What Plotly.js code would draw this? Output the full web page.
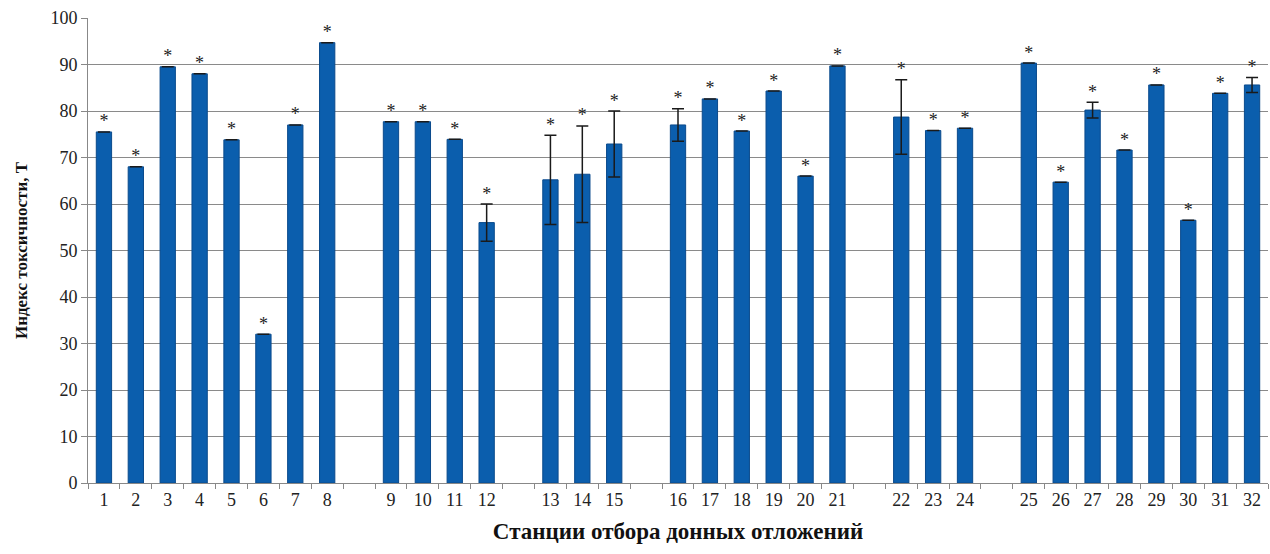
<!DOCTYPE html>
<html>
<head>
<meta charset="utf-8">
<script src="https://cdn.plot.ly/plotly-3.0.1.min.js"></script>
<style>html,body{margin:0;padding:0;background:#fff;}#chart{width:1270px;height:554px;}</style>
</head>
<body>
<div id="chart"></div>
<script>
// Station labels; whitespace entries are the empty slots between station groups
const stations = ['1','2','3','4','5','6','7','8',' ',
  '9','10','11','12','  ',
  '13','14','15','   ',
  '16','17','18','19','20','21','    ',
  '22','23','24','     ',
  '25','26','27','28','29','30','31','32'];
const toxicity = [75.5,68,89.5,88,73.8,32,77,94.7,null,
  77.7,77.7,73.9,56,null,
  65.2,66.4,72.9,null,
  77,82.6,75.7,84.3,66,89.7,null,
  78.7,75.8,76.3,null,
  90.3,64.7,80.2,71.6,85.6,56.5,83.8,85.6];
const errors = [0,0,0,0,0,0,0,0,null,
  0,0,0,4,null,
  9.6,10.4,7.1,null,
  3.5,0,0,0,0,0,null,
  8,0,0,null,
  0,0,1.7,0,0,0,0,1.6];
const marks = stations.map((s,i)=> toxicity[i]===null ? '' : '*');
const markY = toxicity.map((v,i)=> v===null ? null : v + errors[i]);

const serif = 'Liberation Serif, Times New Roman, serif';
const data = [
  {type:'bar', x:stations, y:toxicity,
   marker:{color:'#0b5ead', line:{color:'#0a4a8c', width:1}},
   error_y:{type:'data', array:errors, visible:true, color:'#1a1a1a', thickness:1.5, width:6},
   hoverinfo:'x+y'},
  {type:'scatter', mode:'text', x:stations, y:markY, text:marks,
   textposition:'top center', textfont:{family:serif, size:18, color:'#222'},
   hoverinfo:'skip', cliponaxis:false}
];
const layout = {
  width:1270, height:554,
  margin:{l:88, r:2, t:18, b:71},
  paper_bgcolor:'#fff', plot_bgcolor:'#fff',
  showlegend:false, bargap:0.52,
  font:{family:serif, size:18, color:'#222'},
  xaxis:{type:'category', categoryorder:'array', categoryarray:stations,
    range:[-0.5, stations.length-0.5], autorange:false,
    showline:true, linecolor:'#888', linewidth:1,
    ticks:'outside', tickson:'boundaries', ticklen:5, tickcolor:'#888',
    showgrid:false, tickfont:{family:serif, size:18, color:'#222'},
    title:{text:'<b>Станции отбора донных отложений</b>', font:{family:serif, size:23, color:'#111'}, standoff:14}},
  yaxis:{range:[0,100], dtick:10, showline:true, linecolor:'#888', linewidth:1,
    ticks:'outside', ticklen:6, tickcolor:'#888',
    gridcolor:'#8a8a8a', gridwidth:1, zeroline:false,
    tickfont:{family:serif, size:18, color:'#222'},
    title:{text:'<b>Индекс токсичности, Т</b>', font:{family:serif, size:17, color:'#111'}, standoff:18}}
};
Plotly.newPlot('chart', data, layout, {displayModeBar:false, staticPlot:true});
</script>
</body>
</html>
